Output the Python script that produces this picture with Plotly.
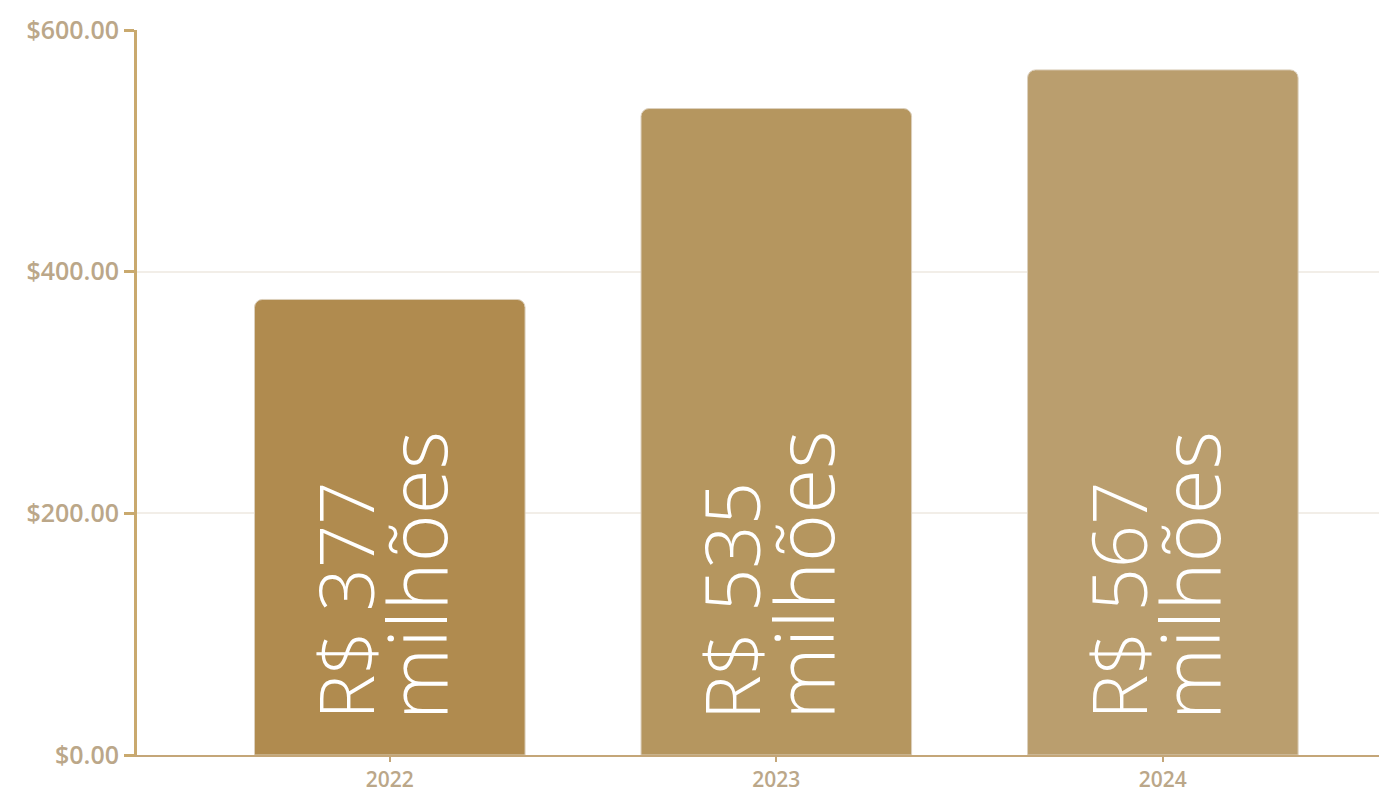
import plotly.graph_objects as go

years = ["2022", "2023", "2024"]
values = [377, 535, 567]
line1 = ["R$ 377", "R$ 535", "R$ 567"]
line2 = ["milhões", "milhões", "milhões"]
colors = ["#B08B4F", "#B5965F", "#BA9E6E"]
y_ticks = [0, 200, 400, 600]

fig = go.Figure(go.Bar(
    x=years, y=values,
    marker=dict(color=colors, cornerradius=8, line=dict(color="#DCD0BD", width=1)),
    width=0.7, hoverinfo="skip",
))

font1 = dict(family="Open Sans", size=76, color="white", weight=300)
font2 = dict(family="Open Sans", size=82, color="white", weight=300)
for i, (t1, t2) in enumerate(zip(line1, line2)):
    fig.add_annotation(x=i, y=0, xref="x", yref="paper", text=t1, textangle=-90,
                       showarrow=False, xanchor="center", yanchor="bottom",
                       xshift=-46, yshift=33, font=font1)
    fig.add_annotation(x=i, y=0, xref="x", yref="paper", text=t2, textangle=-90,
                       showarrow=False, xanchor="center", yanchor="bottom",
                       xshift=25, yshift=33, font=font2)

fig.update_layout(
    width=1379, height=785,
    margin=dict(l=129, r=0, t=22, b=38, autoexpand=False),
    plot_bgcolor="white", paper_bgcolor="white",
    showlegend=False,
    xaxis=dict(
        type="category", range=[-0.654, 2.58], automargin=False,
        showline=True, linecolor="#C4A678", linewidth=2,
        ticks="outside", ticklen=5, tickcolor="#C4A678", tickwidth=2,
        tickfont=dict(family="Open Sans", size=21, color="#BBA789", weight=600),
        showgrid=False,
    ),
    yaxis=dict(
        range=[0, 600], tickvals=y_ticks, tickformat="$,.2f", automargin=False,
        showline=True, linecolor="#C9A96E", linewidth=3,
        ticks="outside", ticklen=10, tickcolor="#C9A96E", tickwidth=3,
        tickfont=dict(family="Open Sans", size=25, color="#BBA789", weight=600),
        showgrid=True, gridcolor="#F2EEE8", gridwidth=2,
        zeroline=False,
    ),
)

fig.write_html("out.html")
